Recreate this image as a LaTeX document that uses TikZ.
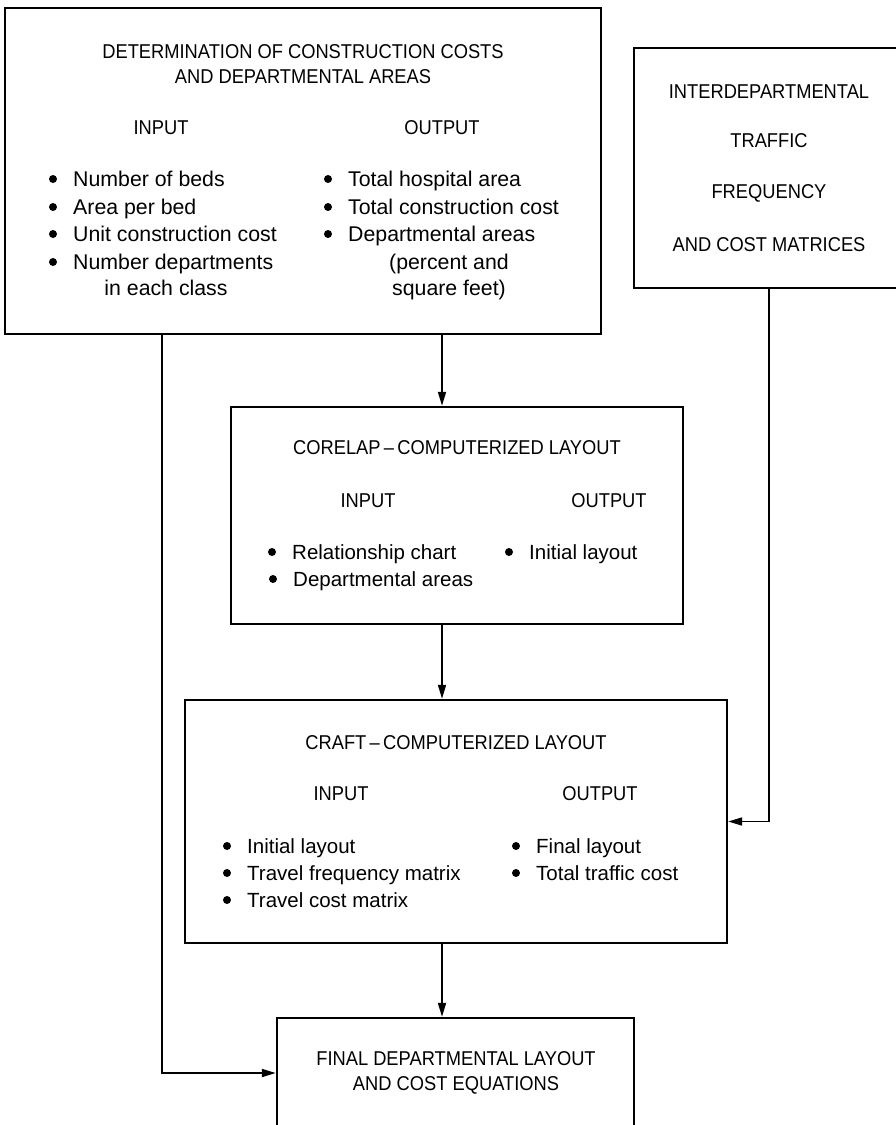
\documentclass[tikz,border=0pt]{standalone}
\usepackage{fontspec}
\setmainfont{Liberation Sans}
\newfontfamily\capsfont[FakeStretch=0.915]{Liberation Sans}
\usetikzlibrary{arrows.meta}
\begin{document}
\begin{tikzpicture}[x=1pt,y=-1pt,
  box/.style={draw, line width=2.4pt, inner sep=0pt},
  conn/.style={line width=1.8pt, -{Triangle[length=14pt,width=8pt]}},
  hd/.style={font=\capsfont\fontsize{20}{25}\selectfont, inner sep=0pt, align=center},
  itm/.style={font=\fontsize{20.5}{27}\selectfont, inner sep=0pt, anchor=west,
    text height=14.6pt, text depth=0pt},
  itmA/.style={itm, font=\fontsize{21.3}{27}\selectfont},
  cont/.style={font=\fontsize{20.5}{27}\selectfont, inner sep=0pt,
    text height=14.6pt, text depth=0pt},
  contA/.style={cont, font=\fontsize{21.3}{27}\selectfont}]
\useasboundingbox (0,0) rectangle (896,1125);
\clip (0,0) rectangle (896,1125);

% boxes
\node[box, minimum width=596pt, minimum height=326pt] (b1) at (303,171) {};
\node[box, minimum width=270pt, minimum height=240pt] (b5) at (769,168) {};
\node[box, minimum width=452pt, minimum height=217pt] (b2) at (457,515.5) {};
\node[box, minimum width=542pt, minimum height=243pt] (b3) at (456,821.5) {};
\node[box, minimum width=357pt, minimum height=142pt] (b4) at (455.5,1089) {};

% box 1 texts
\node[hd] (t1) at (303,64.5) {DETERMINATION OF CONSTRUCTION COSTS\\AND DEPARTMENTAL AREAS};
\node[hd] (t1i) at (161,128) {INPUT};
\node[hd] (t1o) at (442,128) {OUTPUT};
\node[itmA] (i11) at (73,179) {Number of beds};
\node[itmA] (i12) at (73,207) {Area per bed};
\node[itmA] (i13) at (73,234) {Unit construction cost};
\node[itmA] (i14) at (73,262) {Number departments};
\node[contA] (i15) at (166,288) {in each class};
\node[itmA] (o11) at (348,179) {Total hospital area};
\node[itmA] (o12) at (348,207) {Total construction cost};
\node[itmA] (o13) at (348,234) {Departmental areas};
\node[contA] (o14) at (449,262) {(percent and};
\node[contA] (o15) at (449,288) {square feet)};

% box 5 texts
\node[hd] (t5a) at (769,92) {INTERDEPARTMENTAL};
\node[hd] (t5b) at (769,141) {TRAFFIC};
\node[hd] (t5c) at (769,193) {FREQUENCY};
\node[hd] (t5d) at (769,245) {AND COST MATRICES};

% box 2 texts
\node[hd] (t2) at (457,448) {CORELAP\,–\,COMPUTERIZED LAYOUT};
\node[hd] (t2i) at (368,501) {INPUT};
\node[hd] (t2o) at (609,501) {OUTPUT};
\node[itm] (i21) at (292,552) {Relationship chart};
\node[itm] (i22) at (293,579) {Departmental areas};
\node[itm] (o21) at (529,552) {Initial layout};

% box 3 texts
\node[hd] (t3) at (456,743) {CRAFT\,–\,COMPUTERIZED LAYOUT};
\node[hd] (t3i) at (341,794) {INPUT};
\node[hd] (t3o) at (600,794) {OUTPUT};
\node[itm] (i31) at (247,846) {Initial layout};
\node[itm] (i32) at (247,873) {Travel frequency matrix};
\node[itm] (i33) at (247,900) {Travel cost matrix};
\node[itm] (o31) at (536,846) {Final layout};
\node[itm] (o32) at (536,873) {Total traffic cost};

% box 4 text
\node[hd] (t4) at (456,1072.5) {FINAL DEPARTMENTAL LAYOUT\\AND COST EQUATIONS};

% bullets
\foreach \n in {i11,i12,i13,i14,o11,o12,o13,i21,i22,o21,i31,i32,i33,o31,o32}
  \fill ([xshift=-20pt]\n.west) circle (4pt);

% connectors
\coordinate (mx) at (442,0);
\coordinate (lk) at (162,1073);
\draw[conn] (b1.south -| mx) -- (b2.north -| mx);
\draw[conn] (b2.south -| mx) -- (b3.north -| mx);
\draw[conn] (b3.south -| mx) -- (b4.north -| mx);
\draw[conn] (b1.south -| lk) |- (b4.west |- lk);
\draw[conn] (b5.south) |- (b3.east);
\end{tikzpicture}
\end{document}
